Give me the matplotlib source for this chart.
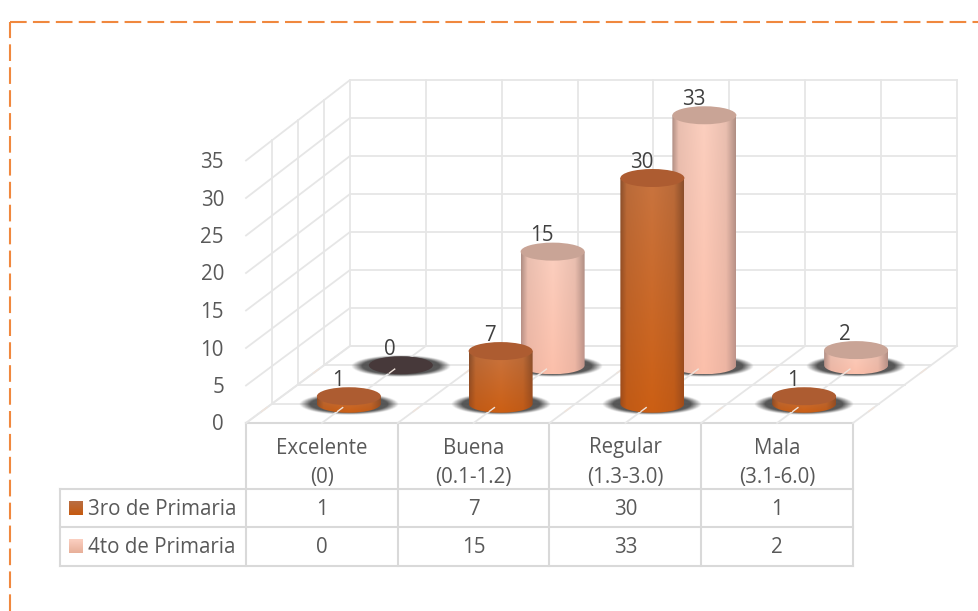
"""3D-look cylinder chart with data table, drawn on a pixel canvas."""

import numpy as np
import matplotlib
matplotlib.use("Agg")
import matplotlib.pyplot as plt
from matplotlib.patches import Ellipse, PathPatch
from matplotlib.path import Path
from matplotlib.colors import to_rgb

plt.rcParams["font.family"] = ["Open Sans", "DejaVu Sans"]

categories = ["Excelente\n(0)", "Buena\n(0.1-1.2)", "Regular\n(1.3-3.0)", "Mala\n(3.1-6.0)"]
series_names = ["3ro de Primaria", "4to de Primaria"]
values_3ro = [1, 7, 30, 1]
values_4to = [0, 15, 33, 2]
y_ticks = [0, 5, 10, 15, 20, 25, 30, 35]

W, H = 979, 611
X0, X1 = 246, 853
DX, DY = 104, 77
Y0 = 423
CAT_W = (X1 - X0) / len(categories)
RX, RY = 32, 9
FS = 14.8
GRID = "#e6e6e6"
TABLE = "#d9d9d9"
TEXT = "#595959"
LABEL = "#404040"

STYLE_3RO = {
    "edge_top": "#8a4f2c", "mid_top": "#c9743f",
    "edge_bot": "#a04c1a", "mid_bot": "#cc5f14",
    "top": "#ad5c31", "swatch": ("#b96e42", "#c55a11"),
}
STYLE_4TO = {
    "edge_top": "#b08f84", "mid_top": "#fccfbf",
    "edge_bot": "#c0948a", "mid_bot": "#fcc0ab",
    "top": "#c9a496", "swatch": ("#fbcfc0", "#e8b09a"),
}


def project(cat, depth, value):
    """cat in category units, depth 0 (front) to 1 (back), value in data units."""
    unit = 7.5 + 0.1 * depth
    return X0 + cat * CAT_W + DX * depth, Y0 - DY * depth - unit * value


def hex_row(a, b, n=64):
    a, b = np.array(to_rgb(a)), np.array(to_rgb(b))
    t = np.linspace(0, 1, n)[:, None]
    return a + (b - a) * t


def side_image(style):
    u = np.linspace(0, 1, 64)
    # dark at both edges, brightest a little right of centre
    shade = np.interp(u, [0, 0.1, 0.5, 0.85, 1], [0, 0.75, 1, 0.75, 0])[:, None]
    top = hex_row(style["edge_top"], style["mid_top"], 2)
    bot = hex_row(style["edge_bot"], style["mid_bot"], 2)
    rows = []
    for t in np.linspace(0, 1, 48):
        edge = top[0] + (bot[0] - top[0]) * t
        mid = top[1] + (bot[1] - top[1]) * t
        rows.append(edge + (mid - edge) * shade)
    return np.stack(rows)


def draw_shadow(ax, cx, cy):
    a, b = 50, 11
    yy, xx = np.mgrid[-1:1:60j, -1:1:160j]
    r = np.sqrt(xx ** 2 + yy ** 2)
    img = np.zeros((60, 160, 4))
    img[..., :3] = to_rgb("#3a3a3a")
    img[..., 3] = np.clip((1 - r) / 0.22, 0, 1) * 0.85
    ax.imshow(img, extent=(cx - a, cx + a, cy + b, cy - b), aspect="auto", zorder=3,
              interpolation="bilinear")


def draw_cylinder(ax, cat, depth, value, style, zorder):
    cx, by = project(cat, depth, 0)
    _, ty = project(cat, depth, value)
    cx += 1
    if value == 0:
        ax.add_patch(Ellipse((cx, by), 2 * RX, 2 * RY, fc="#47393a", ec="none", zorder=zorder))
        return
    k = 0.5523
    verts = [
        (cx - RX, ty), (cx - RX, by),
        (cx - RX, by + k * RY), (cx - k * RX, by + RY), (cx, by + RY),
        (cx + k * RX, by + RY), (cx + RX, by + k * RY), (cx + RX, by),
        (cx + RX, ty), (cx - RX, ty),
    ]
    codes = [Path.MOVETO, Path.LINETO, Path.CURVE4, Path.CURVE4, Path.CURVE4,
             Path.CURVE4, Path.CURVE4, Path.CURVE4, Path.LINETO, Path.CLOSEPOLY]
    clip = PathPatch(Path(verts, codes), transform=ax.transData, fc="none", ec="none")
    ax.add_patch(clip)
    im = ax.imshow(side_image(style), extent=(cx - RX, cx + RX, by + RY, ty), aspect="auto",
                   zorder=zorder, interpolation="bilinear")
    im.set_clip_path(clip)
    ax.add_patch(Ellipse((cx, ty), 2 * RX, 2 * RY, fc=style["top"], ec="none", zorder=zorder + 0.1))


fig = plt.figure(figsize=(W / 100, H / 100), dpi=100)
ax = fig.add_axes([0, 0, 1, 1])

# walls and floor
grid_kw = dict(color=GRID, lw=1.3, zorder=1)
top = y_ticks[-1]
for v in y_ticks:
    xa, ya = project(0, 0, v)
    xb, yb = project(0, 1, v)
    xc, yc = project(len(categories), 1, v)
    ax.plot([xa, xb, xc], [ya, yb, yc], **grid_kw)
for d in [0.25, 0.5, 0.75, 1]:
    xa, ya = project(0, d, 0)
    xb, yb = project(0, d, top)
    ax.plot([xa, xb], [ya, yb], **grid_kw)
    xc, yc = project(len(categories), d, 0)
    ax.plot([xa, xc], [ya, yc], **grid_kw)
for k in range(1, 2 * len(categories) + 1):
    c = k / 2
    xa, ya = project(c, 1, 0)
    xb, yb = project(c, 1, top)
    ax.plot([xa, xb], [ya, yb], **grid_kw)

rows = [(0.75, values_4to, STYLE_4TO), (0.25, values_3ro, STYLE_3RO)]

# shadows first, floor diagonals run over them
for depth, vals, style in rows:
    for i in range(len(vals)):
        cx, by = project(i + 0.5, depth, 0)
        draw_shadow(ax, cx + 1, by + 0.5)
for k in range(0, 2 * len(categories) + 1):
    c = k / 2
    xa, ya = project(c, 0, 0)
    xb, yb = project(c, 1, 0)
    ax.plot([xa, xb], [ya, yb], color=GRID, lw=1.3, zorder=4)

for layer, (depth, vals, style) in enumerate(rows):
    z = 5 + 2 * layer
    for i, v in enumerate(vals):
        draw_cylinder(ax, i + 0.5, depth, v, style, z)
    # little bits of the floor lines show on the cylinder rims
    d0, d1 = depth - 0.10, depth - 0.05
    for k in range(0, 2 * len(categories) + 1):
        xa, ya = project(k / 2, d0, 0)
        xb, yb = project(k / 2, d1, 0)
        ax.plot([xa, xb], [ya, yb], color="#f0e4dc", lw=1.0, zorder=z + 0.5)

# data labels
for depth, vals, style in rows:
    for i, v in enumerate(vals):
        cx, _ = project(i + 0.5, depth, 0)
        _, ty = project(i + 0.5, depth, v)
        ax.text(cx - 10, ty - 16, str(v), ha="center", va="center", fontsize=FS, color=LABEL, zorder=12)

# y tick labels
for v in y_ticks:
    _, y = project(0, 0, v)
    ax.text(224, y + 2, str(v), ha="right", va="center", fontsize=FS, color=TEXT)

# data table
ROW1, ROW2, ROW3 = 489, 527, 566
LEFT = 60
tbl = dict(color=TABLE, lw=1.5, zorder=2, solid_capstyle="projecting")
ax.plot([X0, X1], [Y0, Y0], **tbl)
ax.plot([LEFT, X1], [ROW1, ROW1], **tbl)
ax.plot([LEFT, X1], [ROW2, ROW2], **tbl)
ax.plot([LEFT, X1], [ROW3, ROW3], **tbl)
ax.plot([LEFT, LEFT], [ROW1, ROW3], **tbl)
for k in range(len(categories) + 1):
    x = X0 + k * CAT_W
    ax.plot([x, x], [Y0, ROW3], **tbl)

for i, name in enumerate(categories):
    first, second = name.split("\n")
    x = X0 + (i + 0.5) * CAT_W
    ax.text(x, 448, first, ha="center", va="center", fontsize=FS, color=TEXT)
    ax.text(x, 477, second, ha="center", va="center", fontsize=FS, color=TEXT)

row_y = [508, 546]
for name, vals, style, y in zip(series_names, [values_3ro, values_4to], [STYLE_3RO, STYLE_4TO], row_y):
    grad = hex_row(*style["swatch"], 16)[:, None, :]
    ax.imshow(grad, extent=(69, 83, y + 7, y - 7), aspect="auto", zorder=3)
    ax.text(88, y + 1.5, name, ha="left", va="center", fontsize=FS, color=TEXT)
    for i, v in enumerate(vals):
        ax.text(X0 + (i + 0.5) * CAT_W, y + 1.5, str(v), ha="center", va="center", fontsize=FS, color=TEXT)

# dashed page border
border = dict(color="#f0883e", lw=1.5, dashes=(8, 3), zorder=13)
ax.plot([10, 10], [H, 22], **border)
ax.plot([10, W], [22, 22], **border)

ax.set_xlim(0, W)
ax.set_ylim(H, 0)
ax.axis("off")
fig.savefig("out.png", dpi=100, facecolor="white")
